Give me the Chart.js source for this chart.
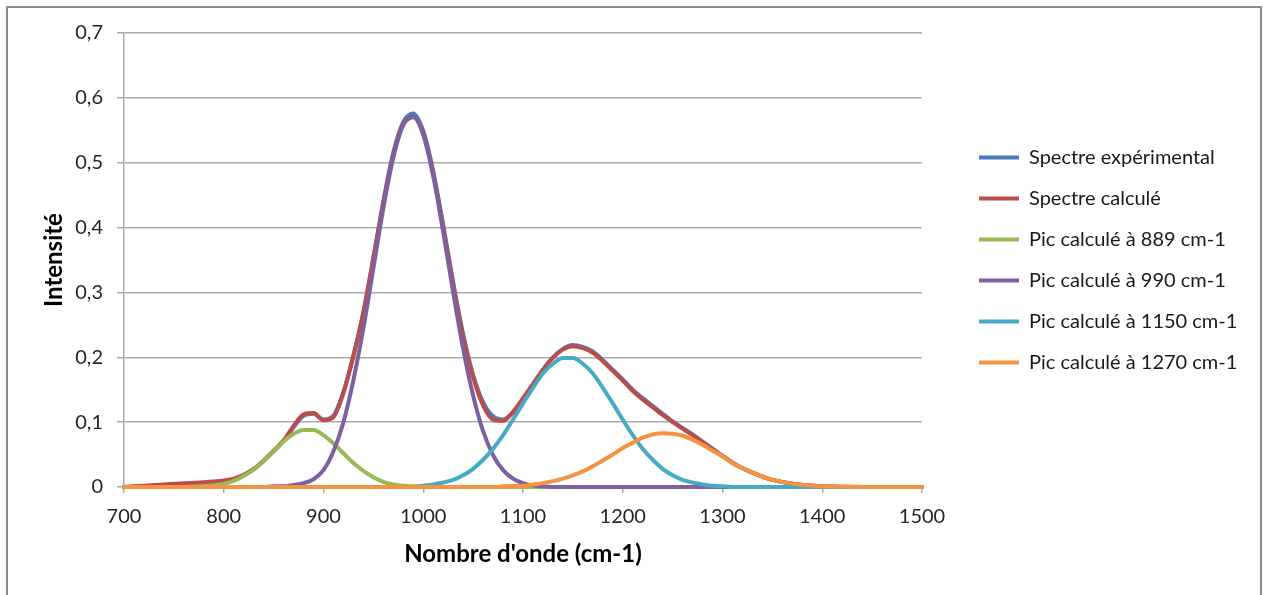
<!DOCTYPE html>
<html>
<head>
<meta charset="utf-8">
<title>Décomposition du spectre</title>
<script src="https://cdn.jsdelivr.net/npm/chart.js@4.4.1/dist/chart.umd.min.js"></script>
<style>
    html, body { margin: 0; padding: 0; background: #fff; }
    #wrap { position: relative; width: 1263px; height: 595px; overflow: hidden; }
    #frame { position: absolute; left: 6px; top: 6px; width: 1252px; height: 620px; border: 2px solid #8c8c8c; pointer-events: none; }
</style>
</head>
<body>
<div id="wrap">
    <canvas id="spectrumChart"></canvas>
    <div id="frame"></div>
</div>
<script>
// Wavenumbers (cm-1)
const wavenumbers = [700, 750, 800, 810, 820, 830, 840, 850, 860, 870, 880, 890, 900, 910, 920, 930, 940, 950, 960, 970,
    980, 990, 1000, 1010, 1020, 1030, 1040, 1050, 1060, 1070, 1080, 1090, 1100, 1110, 1120, 1130, 1140, 1150, 1160, 1170,
    1180, 1190, 1200, 1210, 1220, 1230, 1240, 1250, 1260, 1270, 1280, 1290, 1300, 1310, 1320, 1350, 1400, 1450, 1500];

// Series values
const experimental = [0, 0.004, 0.009, 0.012, 0.018, 0.027, 0.040, 0.055, 0.071, 0.092, 0.110, 0.113, 0.104, 0.110, 0.147, 0.203, 0.270, 0.354, 0.441, 0.516,
    0.563, 0.576, 0.549, 0.487, 0.404, 0.316, 0.236, 0.173, 0.131, 0.109, 0.104, 0.115, 0.135, 0.158, 0.181, 0.200, 0.213, 0.219, 0.216, 0.209,
    0.196, 0.181, 0.166, 0.150, 0.137, 0.125, 0.113, 0.101, 0.091, 0.081, 0.070, 0.059, 0.048, 0.038, 0.029, 0.011, 0.001, 0, 0];
const calculated = [0, 0.005, 0.010, 0.013, 0.019, 0.028, 0.041, 0.056, 0.072, 0.094, 0.112, 0.114, 0.103, 0.108, 0.145, 0.202, 0.268, 0.352, 0.438, 0.512,
    0.560, 0.571, 0.545, 0.483, 0.400, 0.311, 0.231, 0.169, 0.126, 0.104, 0.102, 0.116, 0.137, 0.159, 0.181, 0.199, 0.212, 0.217, 0.214, 0.207,
    0.194, 0.179, 0.164, 0.148, 0.135, 0.123, 0.111, 0.100, 0.090, 0.080, 0.069, 0.058, 0.048, 0.037, 0.029, 0.011, 0.001, 0, 0];
const peak889 = [0, 0, 0.005, 0.0095, 0.017, 0.027, 0.040, 0.055, 0.070, 0.082, 0.088, 0.088, 0.080, 0.067, 0.052, 0.037, 0.025, 0.015, 0.008, 0.004,
    0.002, 0.001, 0, 0, 0, 0, 0, 0, 0, 0, 0, 0, 0, 0, 0, 0, 0, 0, 0, 0,
    0, 0, 0, 0, 0, 0, 0, 0, 0, 0, 0, 0, 0, 0, 0, 0, 0, 0, 0];
const peak990 = [0, 0, 0, 0, 0, 0, 0, 0.001, 0.001, 0.003, 0.006, 0.012, 0.026, 0.055, 0.100, 0.165, 0.245, 0.337, 0.430, 0.508,
    0.558, 0.570, 0.543, 0.479, 0.393, 0.300, 0.213, 0.141, 0.086, 0.049, 0.026, 0.013, 0.006, 0.0025, 0.001, 0, 0, 0, 0, 0,
    0, 0, 0, 0, 0, 0, 0, 0, 0, 0, 0, 0, 0, 0, 0, 0, 0, 0, 0];
const peak1150 = [0, 0, 0, 0, 0, 0, 0, 0, 0, 0, 0, 0, 0, 0, 0, 0, 0, 0, 0, 0,
    0, 0, 0.002, 0.004, 0.007, 0.011, 0.018, 0.028, 0.042, 0.059, 0.080, 0.104, 0.129, 0.153, 0.175, 0.190, 0.199, 0.199, 0.190, 0.175,
    0.153, 0.129, 0.104, 0.080, 0.059, 0.042, 0.028, 0.018, 0.011, 0.007, 0.004, 0.002, 0.001, 0, 0, 0, 0, 0, 0];
const peak1270 = [0, 0, 0, 0, 0, 0, 0, 0, 0, 0, 0, 0, 0, 0, 0, 0, 0, 0, 0, 0,
    0, 0, 0, 0, 0, 0, 0, 0, 0, 0, 0.001, 0.0015, 0.002, 0.004, 0.006, 0.009, 0.013, 0.018, 0.024, 0.032,
    0.041, 0.050, 0.060, 0.068, 0.076, 0.081, 0.083, 0.082, 0.079, 0.073, 0.065, 0.056, 0.047, 0.037, 0.029, 0.011, 0.001, 0, 0];

const seriesNames = ['Spectre expérimental', 'Spectre calculé', 'Pic calculé à 889 cm-1', 'Pic calculé à 990 cm-1',
    'Pic calculé à 1150 cm-1', 'Pic calculé à 1270 cm-1'];
const seriesValues = [experimental, calculated, peak889, peak990, peak1150, peak1270];
const seriesColors = ['#4A7EBB', '#BE4B48', '#98B954', '#7D60A0', '#46AAC5', '#F69240'];

// Tick labels
const xTickLabels = ['700', '800', '900', '1000', '1100', '1200', '1300', '1400', '1500'];
const yTickLabels = ['0', '0,1', '0,2', '0,3', '0,4', '0,5', '0,6', '0,7'];

const tickFont = { family: 'Lato', size: 20 };
const titleFont = { family: 'Lato', size: 24, weight: 'bold' };
const legendFont = { family: 'Lato', size: 20 };
const gridGray = '#ababab';

// Legend geometry: lines start at x=979, plot ends at x=922
const legendLine = 40;
const legendPad = 21;
const legendLeft = 979 - legendPad;

const ctx = document.getElementById('spectrumChart').getContext('2d');

// Legend width as Chart.js computes it, to keep the legend where it sits in the original
ctx.font = legendFont.size + 'px ' + legendFont.family;
const longestName = Math.max(...seriesNames.map(n => ctx.measureText(n).width));
const legendWidth = legendPad + legendLine + legendFont.size / 2 + longestName + 10;
const rightPad = Math.max(0, 1263 - legendLeft - legendWidth);

// Build datasets; last series is drawn on top like in the original
const datasets = seriesValues.map((values, s) => ({
    label: seriesNames[s],
    data: wavenumbers.map((x, i) => ({ x: x, y: values[i] })),
    borderColor: seriesColors[s],
    backgroundColor: seriesColors[s],
    borderWidth: 4,
    borderCapStyle: 'round',
    borderJoinStyle: 'round',
    pointRadius: 0,
    cubicInterpolationMode: 'monotone',
    clip: false,
    order: seriesValues.length - s
}));

const spectrumChart = new Chart(ctx, {
    type: 'line',
    data: { datasets: datasets },
    options: {
        responsive: true,
        maintainAspectRatio: false,
        animation: false,
        layout: { padding: { left: 0, top: 33, right: rightPad, bottom: 0 } },
        scales: {
            x: {
                type: 'linear',
                min: 700,
                max: 1500,
                ticks: {
                    stepSize: 100,
                    padding: 12,
                    color: '#262626',
                    font: tickFont,
                    callback: (v, i) => xTickLabels[i]
                },
                grid: { drawOnChartArea: false, drawTicks: true, tickLength: 6, color: gridGray, lineWidth: 1.5 },
                border: { color: gridGray, width: 1.5 },
                title: {
                    display: true,
                    text: "Nombre d'onde (cm-1)",
                    color: '#000',
                    font: titleFont,
                    padding: { top: 0, bottom: 26 }
                },
                afterFit: scale => { scale.height = 108; }
            },
            y: {
                min: 0,
                max: 0.7,
                ticks: {
                    stepSize: 0.1,
                    padding: 14,
                    color: '#262626',
                    font: tickFont,
                    callback: (v, i) => yTickLabels[i]
                },
                grid: { color: gridGray, lineWidth: 1.5, tickLength: 7 },
                border: { color: gridGray, width: 1.5 },
                title: {
                    display: true,
                    text: 'Intensité',
                    color: '#000',
                    font: titleFont,
                    padding: { top: 40, bottom: 0 }
                },
                afterFit: scale => { scale.width = 124; }
            },
            // empty axis, only keeps the gap between plot and legend
            gap: {
                position: 'right',
                display: true,
                grid: { display: false },
                border: { display: false },
                ticks: { display: false },
                afterFit: scale => { scale.width = legendLeft - 922; }
            }
        },
        plugins: {
            legend: {
                position: 'right',
                align: 'center',
                fullSize: false,
                maxWidth: legendWidth + 4,
                labels: {
                    usePointStyle: true,
                    pointStyle: 'line',
                    pointStyleWidth: legendLine,
                    padding: legendPad,
                    color: '#1a1a1a',
                    font: legendFont,
                    sort: (a, b) => a.datasetIndex - b.datasetIndex
                }
            },
            tooltip: { enabled: false }
        }
    }
});
</script>
</body>
</html>
